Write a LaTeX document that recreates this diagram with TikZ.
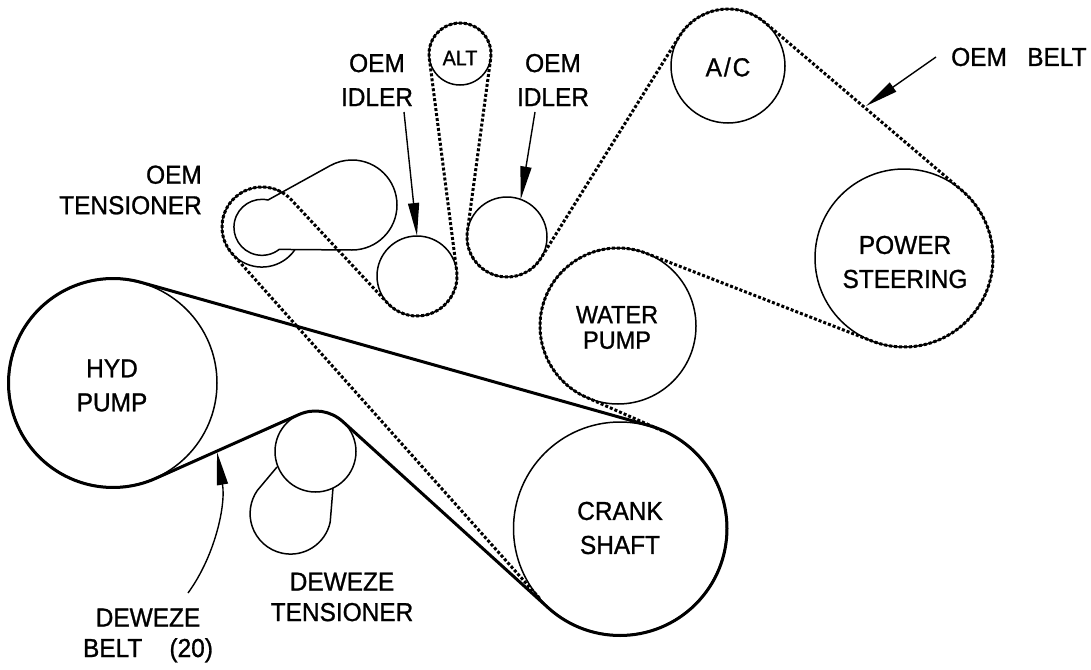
\documentclass[tikz,border=0pt]{standalone}
\usepackage{fontspec}
\setmainfont[FakeStretch=0.94,FakeBold=1]{Liberation Sans}
\usetikzlibrary{arrows.meta}
\newcommand\Tan[7]{%
 \pgfmathsetmacro\tth{atan2((#6)-(#3),(#5)-(#2))}%
 \pgfmathsetmacro\dd{veclen((#5)-(#2),(#6)-(#3))}%
 \pgfmathsetmacro\pp{acos(((#4)-(#7))/\dd)}%
 \pgfmathsetmacro\aa{\tth+\pp}%
 \expandafter\edef\csname ang#1\endcsname{\aa}%
 \coordinate (#1a) at ({(#2)+(#4)*cos(\aa)},{(#3)+(#4)*sin(\aa)});%
 \coordinate (#1b) at ({(#5)+(#7)*cos(\aa)},{(#6)+(#7)*sin(\aa)});%
}
\newcommand\BArc[4]{%
 \pgfmathsetmacro\ssa{\csname ang#2\endcsname+((#4)<0?180:0)}%
 \pgfmathsetmacro\eea{\csname ang#3\endcsname+((#4)<0?180:0)}%
 \pgfmathsetmacro\eeb{(#4)>0?\ssa-mod(\ssa-\eea+720,360):\ssa+mod(\eea-\ssa+720,360)}%
 \pgfmathsetmacro\rra{abs(#4)}%
 \edef\tmpx{\noexpand\tikzset{#1/.style={start angle=\ssa,end angle=\eeb,radius=\rra}}}\tmpx
}
\tikzset{
 pulley/.style={circle,draw,line width=1.5pt,inner sep=0pt,outer sep=0pt},
 thinline/.style={line width=1.5pt},
 oembelt/.style={line width=3pt,dash pattern=on 3pt off 2pt},
 dzbelt/.style={line width=3pt,line join=round},
 callout/.style={line width=1.4pt,-{Triangle[length=33pt,width=11pt]}},
 lab/.style={align=center,font=\fontsize{26}{34}\selectfont,inner sep=0pt},
 labtight/.style={align=center,font=\fontsize{26}{30.5}\selectfont,inner sep=0pt}
}
\begin{document}
\begin{tikzpicture}[x=1pt,y=-1pt]
\useasboundingbox (0,0) rectangle (1091,669);
% pulleys
\node[pulley,minimum size=213pt] (crank) at (620,528.5) {};
\node[pulley,minimum size=208pt] (hyd) at (113,383) {};
\node[pulley,minimum size=156pt] (water) at (618,326) {};
\node[pulley,minimum size=178pt] (ps) at (904,258) {};
\node[pulley,minimum size=114pt] (ac) at (728,66) {};
\node[pulley,minimum size=62pt] (alt) at (460,54) {};
\node[pulley,minimum size=80pt] (idL) at (417,276) {};
\node[pulley,minimum size=80pt] (idR) at (507,237) {};
\node[pulley,minimum size=81pt] (dzid) at (315.5,451.5) {};
% OEM tensioner arm
\draw[thinline] (268,200) arc[start angle=282.5,end angle=52,radius=28] -- (352,250)
  arc[start angle=90,end angle=-119.4,radius=45] -- cycle;
\draw[thinline] (294.7,250) arc[start angle=35,end angle=302,radius=40];
% DeWeze tensioner arm
\draw[thinline] (333,488) -- (330.2,522) arc[start angle=12,end angle=215,radius=40.5] -- (277,467);
% OEM belt
\Tan{A}{620}{528.5}{106.5}{618}{326}{-78}
\Tan{B}{618}{326}{-78}{904}{258}{89}
\Tan{C}{904}{258}{89}{728}{66}{57}
\Tan{D}{728}{66}{57}{507}{237}{-40}
\Tan{E}{507}{237}{-40}{460}{54}{31}
\Tan{F}{460}{54}{31}{417}{276}{-40}
\Tan{G}{417}{276}{-40}{262}{227}{40}
\Tan{H}{262}{227}{40}{620}{528.5}{106.5}
\BArc{awater}{A}{B}{-78}
\BArc{apower}{B}{C}{89}
\BArc{aac}{C}{D}{57}
\BArc{aidr}{D}{E}{-40}
\BArc{aalt}{E}{F}{31}
\BArc{aidl}{F}{G}{-40}
\BArc{aten}{G}{H}{40}
\draw[oembelt] (Aa) -- (Ab) arc[awater] -- (Bb) arc[apower] -- (Cb) arc[aac] -- (Db) arc[aidr] -- (Eb) arc[aalt] -- (Fb) arc[aidl] -- (Gb) arc[aten] -- (Hb);
% DeWeze belt
\Tan{P}{620}{528.5}{107}{113}{383}{104.5}
\Tan{Q}{113}{383}{104.5}{315.5}{451.5}{-40.5}
\Tan{R}{315.5}{451.5}{-40.5}{620}{528.5}{107}
\BArc{bhyd}{P}{Q}{104.5}
\BArc{bid}{Q}{R}{-40.5}
\BArc{bcrank}{R}{P}{107}
\draw[dzbelt] (Pa) -- (Pb) arc[bhyd] -- (Qb) arc[bid] -- (Rb) arc[bcrank] -- cycle;
% callouts
\coordinate (c1) at (404,112);
\coordinate (c2) at (535,112);
\coordinate (c3) at (936,57);
\coordinate (c3t) at (866,106);
\coordinate (c4) at (188,593);
\coordinate (c4t) at (217,452);
\draw[callout] (c1) -- (idL.north);
\draw[callout] (c2) -- (idR.70);
\draw[callout] (c3) -- (c3t);
\draw[callout] (c4) .. controls (215,556) and (226,505) .. (c4t);
% labels
\node[lab] (t1) at (620,528) {CRANK\\SHAFT};
\node[lab] (t2) at (112,385.5) {HYD\\PUMP};
\node[lab,font=\fontsize{25}{25.5}\selectfont] (t3) at (617,327.5) {WATER\\PUMP};
\node[lab] (t4) at (905,262) {POWER\\STEERING};
\node[lab] (t5) at (728,67) {A\kern2pt/\kern2pt C};
\node[lab,font=\fontsize{21}{24}\selectfont] (t6) at (460,58) {ALT};
\node[lab] (l1) at (377,80) {OEM\\IDLER};
\node[lab] (l2) at (553,80) {OEM\\IDLER};
\node[labtight,align=right,anchor=east] (l3) at (202,190) {OEM\\TENSIONER};
\node[lab,anchor=west] (l4) at (951,57) {OEM~~~BELT};
\node[labtight] (l5) at (342,597) {DEWEZE\\TENSIONER};
\node[labtight] (l6) at (148,635.5) {DEWEZE\\BELT~~~~(20)};
\end{tikzpicture}
\end{document}
